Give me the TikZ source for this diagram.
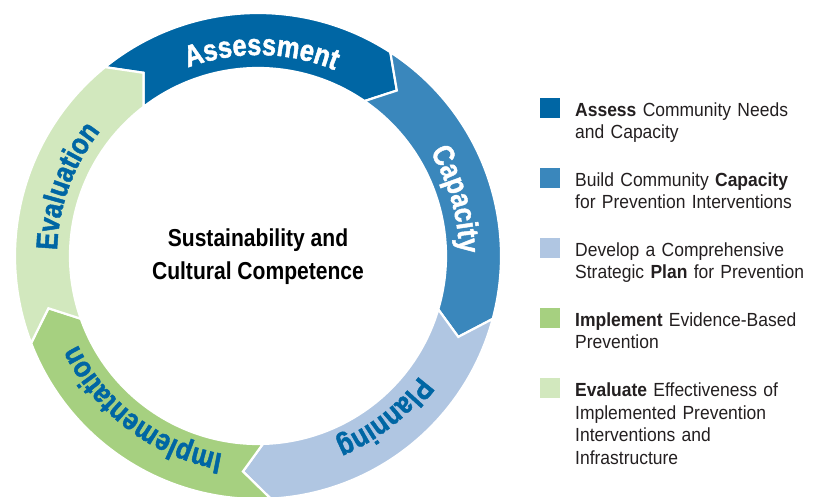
\documentclass[tikz,border=0pt]{standalone}
\usepackage{fontspec}
\setmainfont[FakeStretch=0.92]{Liberation Sans}
\newfontfamily\ringfamily[FakeStretch=0.85, BoldFeatures={FakeBold=1.5}]{Liberation Sans}
\newfontfamily\corefamily[FakeStretch=0.86]{Liberation Sans}
\usepackage{xcolor}
\usepackage{tikz}
\usetikzlibrary{positioning, decorations.text}

\definecolor{asmtblue}{RGB}{0,102,164}
\definecolor{capablue}{RGB}{58,135,188}
\definecolor{planblue}{RGB}{176,198,226}
\definecolor{implgreen}{RGB}{166,208,128}
\definecolor{evalgreen}{RGB}{210,232,190}
\definecolor{keyink}{RGB}{35,31,32}

\newcommand{\ringfont}{\ringfamily\bfseries\fontsize{30pt}{30pt}\selectfont}
\newcommand{\Ro}{243pt}
\newcommand{\Ri}{188pt}
\newcommand{\Rm}{216pt}
\newcommand{\Rt}{201pt}

\tikzstyle{segment} = [draw=white, line width=2.2pt, line join=miter]
\tikzstyle{keybox} = [minimum size=20pt, inner sep=0pt]
\tikzstyle{keytext} = [anchor=base west, inner sep=0pt, align=left, text width=240pt, text=keyink, font=\fontsize{19pt}{22.5pt}\selectfont]
\tikzstyle{core} = [anchor=base, inner sep=0pt, font=\corefamily\bfseries\fontsize{24.5pt}{24.5pt}\selectfont]

% text along the ring, read clockwise
\newcommand{\ringlabel}[3]{%
  \path[decorate, decoration={text along path, text={|\ringfont|#2}, text align=center, text color=#3}]
    (#1+50:\Rt) arc[start angle=#1+50, end angle=#1-50, radius=\Rt];}

\begin{document}
\begin{tikzpicture}
    \useasboundingbox (-258pt,-241pt) rectangle (558pt,256pt);

    % five chevron segments
    \foreach \a/\col in {129/asmtblue, 57/capablue, -15/planblue, -87/implgreen, -159/evalgreen} {
        \pgfmathsetmacro{\b}{\a-72}
        \fill[segment, fill=\col]
            (\a:\Ro) arc[start angle=\a, end angle=\b, radius=\Ro]
            -- (\b-7:\Rm) -- (\b-1.5:\Ri)
            arc[start angle=\b-1.5, end angle=\a-1.5, radius=\Ri]
            -- (\a-7:\Rm) -- cycle;
    }

    \ringlabel{89}{Assessment}{white}
    \ringlabel{16}{Capacity}{white}
    \ringlabel{-52}{Planning}{asmtblue}
    \ringlabel{-127}{Implementation}{asmtblue}
    \ringlabel{160}{Evaluation}{asmtblue}

    \node (core1) [core] at (0pt,9.3pt) {Sustainability and};
    \node (core2) [core] at (0pt,-24pt) {Cultural Competence};

    % legend
    \node (key1) [keybox, fill=asmtblue] at (292pt,148pt) {};
    \node (key2) [keybox, fill=capablue] at (292pt,78pt) {};
    \node (key3) [keybox, fill=planblue] at (292pt,8pt) {};
    \node (key4) [keybox, fill=implgreen] at (292pt,-62pt) {};
    \node (key5) [keybox, fill=evalgreen] at (292pt,-132pt) {};

    \node (txt1) [keytext] at (317pt,139.5pt) {\textbf{Assess} Community Needs\\and Capacity};
    \node (txt2) [keytext] at (317pt,69.5pt) {Build Community \textbf{Capacity}\\for Prevention Interventions};
    \node (txt3) [keytext] at (317pt,-0.5pt) {Develop a Comprehensive\\Strategic \textbf{Plan} for Prevention};
    \node (txt4) [keytext] at (317pt,-70.5pt) {\textbf{Implement} Evidence-Based\\Prevention};
    \node (txt5) [keytext] at (317pt,-140.5pt) {\textbf{Evaluate} Effectiveness of\\Implemented Prevention\\Interventions and\\Infrastructure};
\end{tikzpicture}
\end{document}
